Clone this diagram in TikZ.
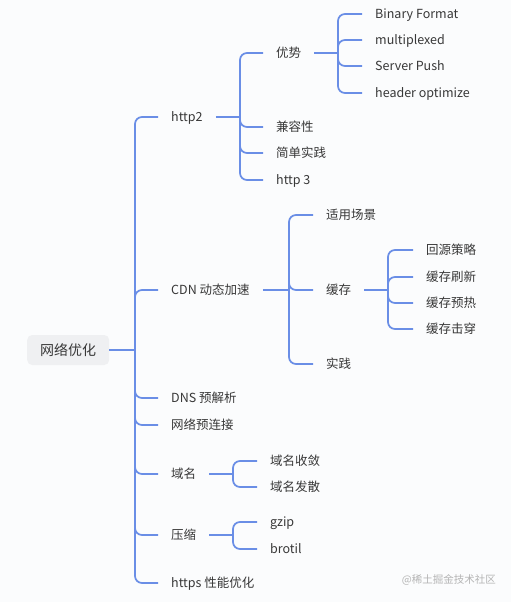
\documentclass[tikz,border=0pt]{standalone}
\usepackage{fontspec}
\newfontfamily\cjk{Noto Sans CJK SC}
\definecolor{linkc}{HTML}{6A8EE6}
\definecolor{txt}{HTML}{383838}
\definecolor{bgc}{HTML}{FBFCFD}
\definecolor{rootfill}{HTML}{EFF0F2}
\definecolor{wm}{HTML}{B4B4B4}
\begin{document}
\begin{tikzpicture}[x=1pt,y=-1pt,
  lnk/.style={draw=linkc, line width=1.7pt, rounded corners=7pt},
  leaf/.style={inner xsep=13pt, inner ysep=0pt, anchor=west, text=txt,
    font=\cjk\fontsize{12.5}{14}\selectfont, text height=10pt, text depth=0.5pt},
  rootbox/.style={leaf, fill=rootfill, rounded corners=5pt, minimum height=30pt,
    font=\cjk\fontsize{14}{16}\selectfont, text height=11pt, text depth=0.5pt}]
\fill[bgc] (0,0) rectangle (511,602);
\useasboundingbox (0,0) rectangle (511,602);

% root
\node[rootbox] (root) at (27,350) {网络优化};
\coordinate (j0) at (135,350);

% level 1
\node[leaf] (http2) at (158,117) {http2};
\node[leaf] (cdn) at (158,290) {CDN 动态加速};
\node[leaf] (dns) at (158,398) {DNS 预解析};
\node[leaf] (pre) at (158,425) {网络预连接};
\node[leaf] (dom) at (158,474) {域名};
\node[leaf] (zip) at (158,535) {压缩};
\node[leaf] (https) at (158,583) {https 性能优化};

% http2 children
\coordinate (jh) at (240,117);
\node[leaf] (adv) at (263,53) {优势};
\node[leaf] (compat) at (263,127) {兼容性};
\node[leaf] (simple) at (263,153) {简单实践};
\node[leaf] (http3) at (263,180) {http 3};

% advantage children
\coordinate (ja) at (338,53);
\node[leaf] (bin) at (362,14) {Binary Format};
\node[leaf] (mux) at (362,40) {multiplexed};
\node[leaf] (push) at (362,66) {Server Push};
\node[leaf] (hdr) at (362,93) {header optimize};

% cdn children
\coordinate (jc) at (289,290);
\node[leaf] (scene) at (313,215) {适用场景};
\node[leaf] (cache) at (313,290) {缓存};
\node[leaf] (prac) at (313,364) {实践};

% cache children
\coordinate (jk) at (388,290);
\node[leaf] (c1) at (413,250) {回源策略};
\node[leaf] (c2) at (413,277) {缓存刷新};
\node[leaf] (c3) at (413,303) {缓存预热};
\node[leaf] (c4) at (413,329) {缓存击穿};

% domain children
\coordinate (jd) at (233,474);
\node[leaf] (d1) at (257,461) {域名收敛};
\node[leaf] (d2) at (257,487) {域名发散};

% compress children
\coordinate (jz) at (233,535);
\node[leaf] (z1) at (257,522) {gzip};
\node[leaf] (z2) at (257,549) {brotil};

% connectors
\draw[lnk] (root.east) -- (j0);
\foreach \n in {http2,cdn,dns,pre,dom,zip,https} \draw[lnk] (j0) |- (\n.west);

\draw[lnk] (http2.east) -- (jh);
\foreach \n in {adv,compat,simple,http3} \draw[lnk] (jh) |- (\n.west);

\draw[lnk] (adv.east) -- (ja);
\foreach \n in {bin,mux,push,hdr} \draw[lnk] (ja) |- (\n.west);

\draw[lnk] (cdn.east) -- (jc);
\foreach \n in {scene,cache,prac} \draw[lnk] (jc) |- (\n.west);

\draw[lnk] (cache.east) -- (jk);
\foreach \n in {c1,c2,c3,c4} \draw[lnk] (jk) |- (\n.west);

\draw[lnk] (dom.east) -- (jd);
\foreach \n in {d1,d2} \draw[lnk] (jd) |- (\n.west);

\draw[lnk] (zip.east) -- (jz);
\foreach \n in {z1,z2} \draw[lnk] (jz) |- (\n.west);

% watermark
\node[anchor=east, text=wm, font=\cjk\fontsize{10.5}{12}\selectfont, inner sep=0pt] (wmark) at (496,580) {@稀土掘金技术社区};
\end{tikzpicture}
\end{document}
